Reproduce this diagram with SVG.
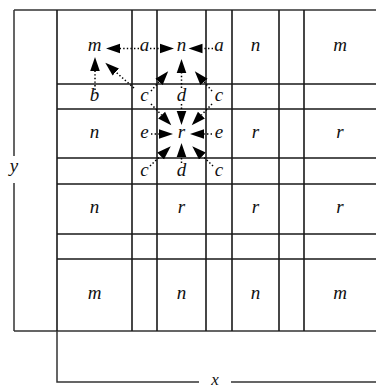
<svg xmlns="http://www.w3.org/2000/svg" width="376" height="388" viewBox="0 0 376 388">
<defs>
<style>
.g{stroke:#1a1a1a;stroke-width:1.6;fill:none}
.o{stroke:#333;stroke-width:1.5;fill:none}
.t{font-family:"Liberation Serif","Times New Roman",serif;font-style:italic;font-size:19px;fill:#111;text-anchor:middle}
.a{stroke:#000;stroke-width:1.5;stroke-dasharray:1.4 2.2;fill:none;marker-end:url(#ah)}
</style>
<marker id="ah" markerUnits="userSpaceOnUse" viewBox="0 -6 15 12" refX="0" refY="0" markerWidth="15" markerHeight="12" orient="auto">
<path d="M0,-4.8 L14,0 L0,4.8 Z" fill="#000"/>
</marker>
</defs>
<rect width="376" height="388" fill="#fff"/>
<g id="frame">
<path class="o" d="M14,10 H376 M14,331 H376 M14,10 V156 M14,183 V331 M57,331 V382 H199 M231,382 H376"/>
<path class="g" d="M57,10 V331 M132,10 V331 M157,10 V331 M206,10 V331 M232,10 V331 M279,10 V331 M304,10 V331"/>
<path class="g" d="M57,84 H376 M57,109 H376 M57,158 H376 M57,184 H376 M57,234 H376 M57,259 H376"/>
<text class="t" x="215" y="385" style="font-size:17px">x</text>
<text class="t" x="14" y="172">y</text>
</g>
<g id="connectors">
<path class="a" d="M139,48.5 L120,48.5"/>
<path class="a" d="M150,48.5 L160,48.5"/>
<path class="a" d="M213,48.5 L202.5,48.5"/>
<path class="a" d="M95,90 L95,71"/>
<path class="a" d="M134,88 L115.8,72"/>
<path class="a" d="M151,91 L159,81.8"/>
<path class="a" d="M212,91 L204,81.8"/>
<path class="a" d="M181.5,88 L181.5,73"/>
<path class="a" d="M151,104 L161.6,115.1"/>
<path class="a" d="M212,104 L201.4,115.1"/>
<path class="a" d="M181.5,104 L181.5,111"/>
<path class="a" d="M151,134 L159,134"/>
<path class="a" d="M212,134 L204,134"/>
<path class="a" d="M150,166 L160.6,155.9"/>
<path class="a" d="M213,166 L202.4,155.9"/>
<path class="a" d="M181.5,163 L181.5,157"/>
</g>
<g id="r1c1"><text class="t" x="94.5" y="51">m</text></g>
<g id="r1c2"><text class="t" x="144.5" y="51">a</text></g>
<g id="r1c3"><text class="t" x="181.5" y="51">n</text></g>
<g id="r1c4"><text class="t" x="219" y="51">a</text></g>
<g id="r1c5"><text class="t" x="255.5" y="51">n</text></g>
<g id="r1c7"><text class="t" x="340" y="51">m</text></g>
<g id="r2c1"><text class="t" x="94.5" y="101">b</text></g>
<g id="r2c2"><text class="t" x="144.5" y="101">c</text></g>
<g id="r2c3"><text class="t" x="181.5" y="101">d</text></g>
<g id="r2c4"><text class="t" x="219" y="101">c</text></g>
<g id="r3c1"><text class="t" x="94.5" y="138">n</text></g>
<g id="r3c2"><text class="t" x="144.5" y="138">e</text></g>
<g id="r3c3"><text class="t" x="181.5" y="138">r</text></g>
<g id="r3c4"><text class="t" x="219" y="138">e</text></g>
<g id="r3c5"><text class="t" x="255.5" y="138">r</text></g>
<g id="r3c7"><text class="t" x="340" y="138">r</text></g>
<g id="r4c2"><text class="t" x="144.5" y="176">c</text></g>
<g id="r4c3"><text class="t" x="181.5" y="176">d</text></g>
<g id="r4c4"><text class="t" x="219" y="176">c</text></g>
<g id="r5c1"><text class="t" x="94.5" y="213">n</text></g>
<g id="r5c3"><text class="t" x="181.5" y="213">r</text></g>
<g id="r5c5"><text class="t" x="255.5" y="213">r</text></g>
<g id="r5c7"><text class="t" x="340" y="213">r</text></g>
<g id="r7c1"><text class="t" x="94.5" y="299">m</text></g>
<g id="r7c3"><text class="t" x="181.5" y="299">n</text></g>
<g id="r7c5"><text class="t" x="255.5" y="299">n</text></g>
<g id="r7c7"><text class="t" x="340" y="299">m</text></g>
</svg>
